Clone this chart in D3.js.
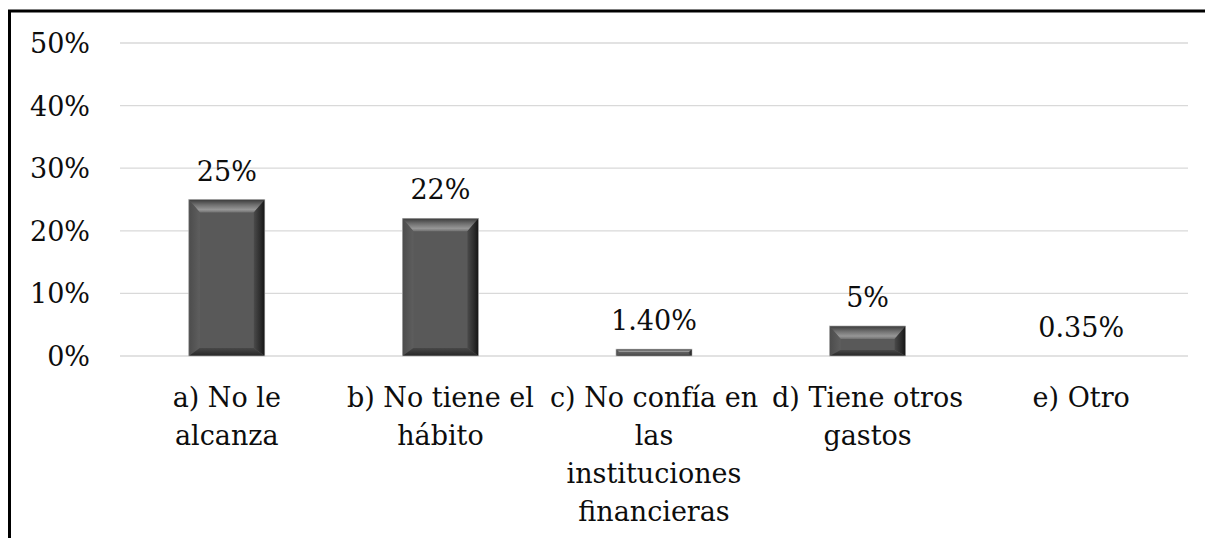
<!DOCTYPE html>
<html>
<head>
<meta charset="utf-8">
<script src="https://d3js.org/d3.v7.min.js"></script>
<style>
  body { margin: 0; background: #fff; }
  svg text { font-family: "DejaVu Serif", serif; fill: #0d0d0d; }
</style>
</head>
<body>
<div id="chart"></div>
<script>
const categories = ["a) No le\nalcanza", "b) No tiene el\nhábito", "c) No confía en\nlas\ninstituciones\nfinancieras", "d) Tiene otros\ngastos", "e) Otro"];
const barValues = [25, 22, 1.1, 4.8, 0];
const valueLabels = ["25%", "22%", "1.40%", "5%", "0.35%"];
const yTicks = [0, 10, 20, 30, 40, 50];

const W = 1205, H = 538;
const plot = {left: 120, right: 1188, top: 43, bottom: 356};

const svg = d3.select("#chart")
    .append("svg")
    .attr("width", W)
    .attr("height", H);

// gradients for the bevel look
const defs = svg.append("defs");
function grad(id, x2, y2, stops) {
    const g = defs.append("linearGradient").attr("id", id)
        .attr("x1", 0).attr("y1", 0).attr("x2", x2).attr("y2", y2);
    stops.forEach(s => g.append("stop").attr("offset", s[0]).attr("stop-color", s[1]));
}
grad("bvTop", 0, 1, [[0, "#3a3a3a"], [0.4, "#6e6e6e"], [0.78, "#979797"], [1, "#707070"]]);
grad("bvLeft", 1, 0, [[0, "#4c4c4c"], [1, "#5e5e5e"]]);
grad("bvRight", 1, 0, [[0, "#4a4a4a"], [0.6, "#2c2c2c"], [1, "#141414"]]);
grad("bvBottom", 0, 1, [[0, "#484848"], [1, "#262626"]]);

const x = d3.scaleBand()
    .domain(categories)
    .range([plot.left, plot.right])
    .paddingInner(0.644)
    .paddingOuter(0.322);

const y = d3.scaleLinear()
    .domain([0, 50])
    .range([plot.bottom, plot.top]);

// gridlines
svg.append("g")
    .selectAll("line")
    .data(yTicks)
    .join("line")
    .attr("x1", plot.left)
    .attr("x2", plot.right)
    .attr("y1", d => y(d))
    .attr("y2", d => y(d))
    .attr("stroke", "#d9d9d9")
    .attr("stroke-width", 1.3);

// y axis labels
svg.append("g")
    .selectAll("text")
    .data(yTicks)
    .join("text")
    .attr("x", 90)
    .attr("y", d => y(d))
    .attr("dy", "0.37em")
    .attr("text-anchor", "end")
    .attr("font-size", 27)
    .text(d => d + "%");

// bars
const bw = x.bandwidth();
const bars = svg.append("g")
    .selectAll("g")
    .data(categories.map((c, i) => ({c, v: barValues[i], label: valueLabels[i]})))
    .join("g");

bars.each(function(d) {
    const g = d3.select(this);
    const x0 = x(d.c), x1 = x0 + bw;
    const y0 = y(d.v), y1 = y(0);
    const h = y1 - y0;
    if (h <= 0) return;
    const t = Math.min(13, h * 0.45), b = Math.min(8, h * 0.2);
    const s = Math.min(11, h * 0.45);
    g.append("rect")
        .attr("x", x0).attr("y", y0)
        .attr("width", bw).attr("height", h)
        .attr("fill", "#595959");
    const poly = (pts, fill) => g.append("polygon")
        .attr("points", pts.map(p => p.join(",")).join(" "))
        .attr("fill", fill);
    poly([[x0, y0], [x1, y0], [x1 - s, y0 + t], [x0 + s, y0 + t]], "url(#bvTop)");
    poly([[x0, y0], [x0 + s, y0 + t], [x0 + s, y1 - b], [x0, y1]], "url(#bvLeft)");
    poly([[x1, y0], [x1, y1], [x1 - s, y1 - b], [x1 - s, y0 + t]], "url(#bvRight)");
    poly([[x0, y1], [x0 + s, y1 - b], [x1 - s, y1 - b], [x1, y1]], "url(#bvBottom)");
    g.append("rect")
        .attr("x", x0).attr("y", y0)
        .attr("width", bw).attr("height", h)
        .attr("fill", "none")
        .attr("stroke", "#bbbbbb")
        .attr("stroke-width", 0.6);
});

// value labels
bars.append("text")
    .attr("x", d => x(d.c) + bw / 2)
    .attr("y", d => y(d.v) - 19)
    .attr("text-anchor", "middle")
    .attr("font-size", 27)
    .text(d => d.label);

// category labels
const cat = svg.append("g")
    .selectAll("text")
    .data(categories)
    .join("text")
    .attr("text-anchor", "middle")
    .attr("font-size", 27);
cat.selectAll("tspan")
    .data(d => d.split("\n").map(line => ({line, d})))
    .join("tspan")
    .attr("x", p => x(p.d) + bw / 2)
    .attr("y", (p, i) => 407 + i * 38)
    .text(p => p.line);

// outer border
svg.append("rect")
    .attr("x", 9.5).attr("y", 11)
    .attr("width", 1400).attr("height", 700)
    .attr("fill", "none")
    .attr("stroke", "#000")
    .attr("stroke-width", 3);
</script>
</body>
</html>
